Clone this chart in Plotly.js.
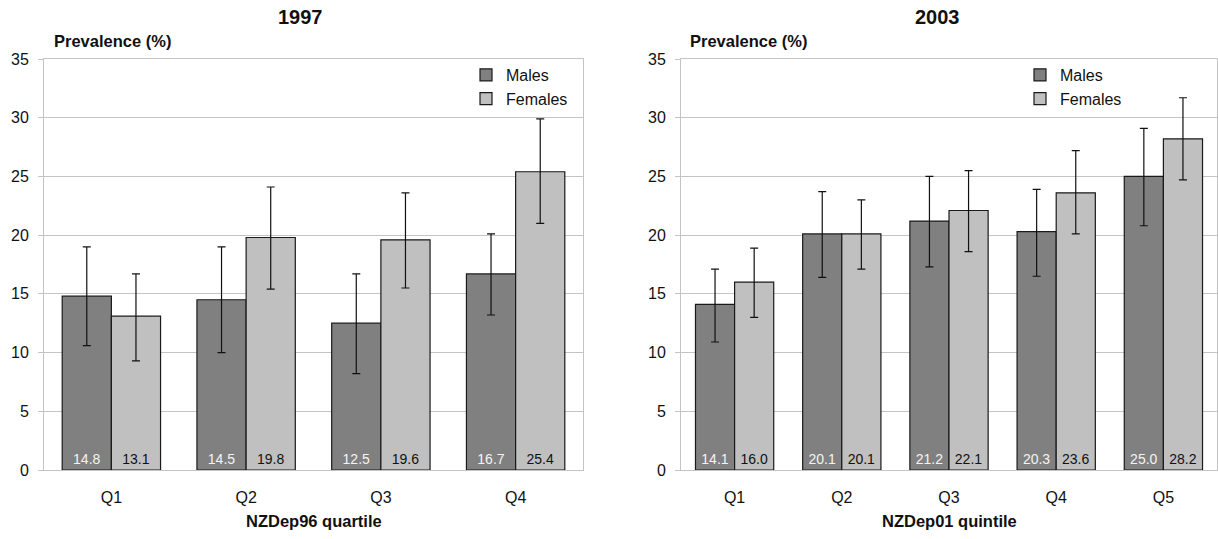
<!DOCTYPE html>
<html>
<head>
<meta charset="utf-8">
<script src="https://cdn.plot.ly/plotly-3.0.1.min.js"></script>
<style>html,body{margin:0;padding:0;background:#fff}#chart{width:1218px;height:539px}</style>
</head>
<body>
<div id="chart"></div>
<script>
// ---- Data: 1997 (NZDep96 quartile) ----
const cats1997 = ['Q1', 'Q2', 'Q3', 'Q4'];
const males1997 = [14.8, 14.5, 12.5, 16.7];
const males1997Lo = [10.6, 10.0, 8.2, 13.2];
const males1997Hi = [19.0, 19.0, 16.7, 20.1];
const females1997 = [13.1, 19.8, 19.6, 25.4];
const females1997Lo = [9.3, 15.4, 15.5, 21.0];
const females1997Hi = [16.7, 24.1, 23.6, 29.9];

// ---- Data: 2003 (NZDep01 quintile) ----
const cats2003 = ['Q1', 'Q2', 'Q3', 'Q4', 'Q5'];
const males2003 = [14.1, 20.1, 21.2, 20.3, 25.0];
const males2003Lo = [10.9, 16.4, 17.3, 16.5, 20.8];
const males2003Hi = [17.1, 23.7, 25.0, 23.9, 29.1];
const females2003 = [16.0, 20.1, 22.1, 23.6, 28.2];
const females2003Lo = [13.0, 17.1, 18.6, 20.1, 24.7];
const females2003Hi = [18.9, 23.0, 25.5, 27.2, 31.7];

const seriesNames = ['Males', 'Females'];
const panelTitles = ['1997', '2003'];
const xTitles = ['NZDep96 quartile', 'NZDep01 quintile'];
const yTitle = 'Prevalence (%)';

const FONT = 'Arial, "Liberation Sans", sans-serif';
const MALE_COLOR = '#808080';
const FEMALE_COLOR = '#c0c0c0';
const OUTLINE = '#1a1a1a';
const GRID = '#c4c4c4';

function diff(a, b) { return a.map((v, i) => +(v - b[i]).toFixed(2)); }

function barTrace(name, cats, vals, lo, hi, color, textColor, xa, ya, legend) {
  return {
    type: 'bar', name: name, x: cats, y: vals,
    xaxis: xa, yaxis: ya, legend: legend, showlegend: true,
    legendgroup: name + legend,
    marker: { color: color, line: { color: OUTLINE, width: 1.2 } },
    text: vals.map(v => v.toFixed(1)),
    textposition: 'inside', insidetextanchor: 'start', constraintext: 'none',
    textangle: 0,
    textfont: { family: FONT, size: 14, color: textColor },
    error_y: { type: 'data', symmetric: false, array: diff(hi, vals), arrayminus: diff(vals, lo),
               color: '#111', thickness: 1.2, width: 4 },
    hoverinfo: 'x+y+name'
  };
}

const data = [
  barTrace(seriesNames[0], cats1997, males1997, males1997Lo, males1997Hi, MALE_COLOR, '#f4f4f4', 'x', 'y', 'legend'),
  barTrace(seriesNames[1], cats1997, females1997, females1997Lo, females1997Hi, FEMALE_COLOR, '#111', 'x', 'y', 'legend'),
  barTrace(seriesNames[0], cats2003, males2003, males2003Lo, males2003Hi, MALE_COLOR, '#f4f4f4', 'x2', 'y2', 'legend2'),
  barTrace(seriesNames[1], cats2003, females2003, females2003Lo, females2003Hi, FEMALE_COLOR, '#111', 'x2', 'y2', 'legend2')
];

const W = 1218, H = 539;
const px = v => v / W;
const py = v => (H - v) / H;

const yTop = 59, yBot = 470;
const leftDom = [px(44), px(583)];
const rightDom = [px(681), px(1217)];

function xAxis(dom, anchor) {
  return {
    domain: dom, anchor: anchor, type: 'category',
    showline: true, linecolor: GRID, linewidth: 1, mirror: true,
    showgrid: false, zeroline: false, ticks: '',
    tickfont: { family: FONT, size: 16, color: '#111' },
    ticklabelstandoff: 13, fixedrange: true
  };
}
function yAxis(anchor) {
  return {
    domain: [py(yBot), py(yTop)], anchor: anchor, range: [0, 35], dtick: 5,
    showline: true, linecolor: GRID, linewidth: 1, mirror: true,
    showgrid: true, gridcolor: GRID, gridwidth: 1, zeroline: false,
    ticks: 'outside', ticklen: 5, tickcolor: GRID,
    ticklabelstandoff: 6,
    tickfont: { family: FONT, size: 16, color: '#111' }, fixedrange: true
  };
}

const annotations = [];
[[leftDom, 52, 300], [rightDom, 688, 938]].forEach((d, i) => {
  annotations.push({ xref: 'paper', yref: 'paper', x: px(d[2]), y: py(17),
    text: '<b>' + panelTitles[i] + '</b>', showarrow: false, xanchor: 'center', yanchor: 'middle',
    font: { family: FONT, size: 20, color: '#111' } });
  annotations.push({ xref: 'paper', yref: 'paper', x: px(d[1]), y: py(41),
    text: '<b>' + yTitle + '</b>', showarrow: false, xanchor: 'left', yanchor: 'middle',
    font: { family: FONT, size: 16.5, color: '#111' } });
  annotations.push({ xref: 'paper', yref: 'paper', x: (d[0][0] + d[0][1]) / 2, y: py(521),
    text: '<b>' + xTitles[i] + '</b>', showarrow: false, xanchor: 'center', yanchor: 'middle',
    font: { family: FONT, size: 16.5, color: '#111' } });
});

function legendCfg(xPix) {
  return {
    x: px(xPix), y: py(58), xanchor: 'left', yanchor: 'top',
    bgcolor: 'rgba(0,0,0,0)', borderwidth: 0, tracegroupgap: 2,
    font: { family: FONT, size: 16, color: '#111' }, traceorder: 'normal'
  };
}

const layout = {
  width: W, height: H, margin: { l: 0, r: 0, t: 0, b: 0 },
  paper_bgcolor: '#fff', plot_bgcolor: '#fff',
  barmode: 'group', bargap: 0.27, bargroupgap: 0,
  font: { family: FONT, color: '#111' },
  xaxis: xAxis(leftDom, 'y'), yaxis: yAxis('x'),
  xaxis2: xAxis(rightDom, 'y2'), yaxis2: yAxis('x2'),
  legend: legendCfg(466), legend2: legendCfg(1020),
  annotations: annotations
};

Plotly.newPlot('chart', data, layout, { displayModeBar: false, staticPlot: true });
</script>
</body>
</html>
